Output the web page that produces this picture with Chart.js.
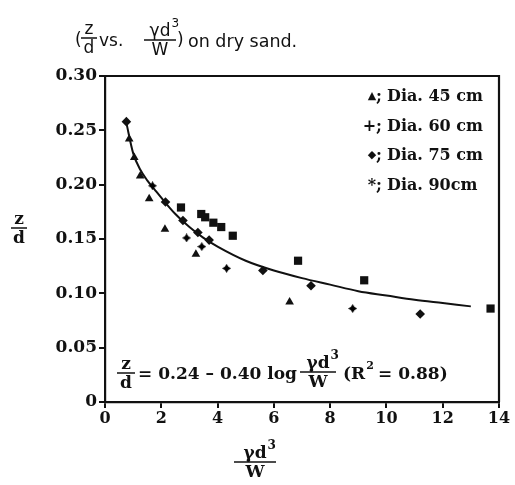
<!DOCTYPE html>
<html>
<head>
<meta charset="utf-8">
<script src="https://cdn.jsdelivr.net/npm/chart.js@4"></script>
<style>
  html, body { margin: 0; padding: 0; background: #fff; }
  #wrap { width: 515px; height: 485px; }
</style>
</head>
<body>
<div id="wrap"><canvas id="c" width="515" height="485"></canvas></div>
<script>
// γd³/W and z/d for each cylinder diameter
const dia45X = [0.86, 1.04, 1.25, 1.57, 2.13, 3.23, 6.56];
const dia45Y = [0.242, 0.225, 0.208, 0.187, 0.159, 0.136, 0.092];

const dia60X = [1.69, 2.90, 3.44, 4.32, 8.80];
const dia60Y = [0.199, 0.151, 0.143, 0.123, 0.086];

const dia75X = [0.76, 2.15, 2.77, 3.30, 3.70, 5.61, 7.32, 11.20];
const dia75Y = [0.258, 0.184, 0.167, 0.156, 0.149, 0.121, 0.107, 0.081];

const dia90X = [2.70, 3.42, 3.56, 3.85, 4.13, 4.54, 6.86, 9.21, 13.70];
const dia90Y = [0.179, 0.173, 0.170, 0.165, 0.161, 0.153, 0.130, 0.112, 0.086];

// fitted regression curve
const fitX = [0.75, 1.0, 1.25, 1.5, 1.75, 2.0, 2.5, 3.0, 3.5, 4.0, 5.0, 6.0, 7.0, 8.0, 9.0, 10.0, 11.0, 12.0, 13.0];
const fitY = [0.258, 0.229, 0.214, 0.204, 0.196, 0.188, 0.173, 0.161, 0.151, 0.143, 0.130, 0.121, 0.114, 0.108, 0.102, 0.098, 0.094, 0.091, 0.088];

const xTicks = [0, 2, 4, 6, 8, 10, 12, 14];
const yTicks = [0, 0.05, 0.10, 0.15, 0.20, 0.25, 0.30];

const legendSymbols = ['\u25B2', '+', '\u25C6', '*'];
const legendLabels = ['Dia. 45 cm', 'Dia. 60 cm', 'Dia. 75 cm', 'Dia. 90cm'];

const pts = (xs, ys) => xs.map((x, i) => ({ x: x, y: ys[i] }));

// small four-pointed star used for the 60 cm series
function starMarker(size) {
  const cv = document.createElement('canvas');
  cv.width = size; cv.height = size;
  const g = cv.getContext('2d');
  const c = size / 2, r = size / 2, k = r * 0.38;
  g.fillStyle = '#000';
  g.beginPath();
  g.moveTo(c, c - r);
  g.lineTo(c + k, c - k);
  g.lineTo(c + r, c);
  g.lineTo(c + k, c + k);
  g.lineTo(c, c + r);
  g.lineTo(c - k, c + k);
  g.lineTo(c - r, c);
  g.lineTo(c - k, c - k);
  g.closePath();
  g.fill();
  return cv;
}

const SERIF = '"DejaVu Serif", "Liberation Serif", serif';
const SANS = '"DejaVu Sans", "Liberation Sans", sans-serif';

// frame, titles, legend and regression equation
const decorations = {
  id: 'decorations',
  afterDraw(chart) {
    const ctx = chart.ctx;
    const a = chart.chartArea;
    ctx.save();
    ctx.strokeStyle = '#111';
    ctx.lineWidth = 2.2;
    ctx.beginPath();
    ctx.moveTo(a.left, a.top);
    ctx.lineTo(a.right, a.top);
    ctx.lineTo(a.right, a.bottom);
    ctx.stroke();

    ctx.fillStyle = '#111';

    function frac(num, den, cx, barY, font, barW, sup) {
      ctx.font = font;
      ctx.textAlign = 'center';
      ctx.textBaseline = 'alphabetic';
      ctx.fillText(num, cx, barY - 4);
      if (sup) {
        const w = ctx.measureText(num).width;
        ctx.save();
        ctx.font = sup.font;
        ctx.textAlign = 'left';
        ctx.fillText(sup.text, cx + w / 2 + 1, barY - 13);
        ctx.restore();
      }
      ctx.textBaseline = 'top';
      ctx.fillText(den, cx, barY + 2);
      ctx.lineWidth = 1.5;
      ctx.beginPath();
      ctx.moveTo(cx - barW / 2, barY);
      ctx.lineTo(cx + barW / 2, barY);
      ctx.stroke();
    }

    // title line
    ctx.font = '17px ' + SANS;
    ctx.textAlign = 'left';
    ctx.textBaseline = 'alphabetic';
    ctx.fillText('(', 75, 45);
    frac('z', 'd', 89, 38, '17px ' + SANS, 16);
    ctx.font = '17px ' + SANS;
    ctx.textAlign = 'left';
    ctx.textBaseline = 'alphabetic';
    ctx.fillText('vs.', 99, 46);
    frac('\u03B3d', 'W', 160, 40, '17px ' + SANS, 32, { text: '3', font: '12px ' + SANS });
    ctx.font = '17px ' + SANS;
    ctx.textAlign = 'left';
    ctx.textBaseline = 'alphabetic';
    ctx.fillText(')', 177, 45);
    ctx.font = '17.5px ' + SANS;
    ctx.fillText('on dry sand.', 188, 47);

    // y-axis title
    frac('z', 'd', 19, 228, 'bold 17px ' + SERIF, 16);

    // x-axis title
    frac('\u03B3d', 'W', 255, 462, 'bold 17px ' + SERIF, 42, { text: '3', font: 'bold 12px ' + SERIF });

    // legend: small symbol, semicolon, then the label column
    ctx.textBaseline = 'middle';
    legendLabels.forEach((t, i) => {
      const y = 97 + i * 29.5;
      ctx.font = 'bold 16px ' + SERIF;
      ctx.textAlign = 'right';
      ctx.fillText(';', 382, y);
      const semi = ctx.measureText(';').width;
      const small = legendSymbols[i] === '\u25B2' || legendSymbols[i] === '\u25C6';
      ctx.font = (small ? 'bold 11px ' : 'bold 16px ') + SERIF;
      ctx.fillText(legendSymbols[i], 382 - semi, small ? y - 1 : y);
      ctx.font = 'bold 16px ' + SERIF;
      ctx.textAlign = 'left';
      ctx.fillText(t, 387, y);
    });

    // regression equation
    frac('z', 'd', 126, 373, 'bold 17px ' + SERIF, 18);
    ctx.font = 'bold 17px ' + SERIF;
    ctx.textAlign = 'left';
    ctx.textBaseline = 'middle';
    ctx.fillText('= 0.24 \u2013 0.40 log', 138, 375);
    frac('\u03B3d', 'W', 318, 372, 'bold 17px ' + SERIF, 36, { text: '3', font: 'bold 12px ' + SERIF });
    ctx.font = 'bold 17px ' + SERIF;
    ctx.textAlign = 'left';
    ctx.textBaseline = 'middle';
    ctx.fillText('(R', 343, 375);
    let w = ctx.measureText('(R').width;
    ctx.font = 'bold 11px ' + SERIF;
    ctx.fillText('2', 343 + w + 1, 366);
    ctx.font = 'bold 17px ' + SERIF;
    ctx.fillText(' = 0.88)', 343 + w + 7, 375);
    ctx.restore();
  }
};

const markerCommon = { backgroundColor: '#111', borderColor: '#111', borderWidth: 0, showLine: false };

new Chart(document.getElementById('c'), {
  type: 'scatter',
  data: {
    datasets: [
      Object.assign({ label: 'Dia. 45 cm', data: pts(dia45X, dia45Y), pointStyle: 'triangle', pointRadius: 5 }, markerCommon),
      Object.assign({ label: 'Dia. 60 cm', data: pts(dia60X, dia60Y), pointStyle: starMarker(9), pointRadius: 5 }, markerCommon),
      Object.assign({ label: 'Dia. 75 cm', data: pts(dia75X, dia75Y), pointStyle: 'rectRot', pointRadius: 4.8 }, markerCommon),
      Object.assign({ label: 'Dia. 90cm', data: pts(dia90X, dia90Y), pointStyle: 'rect', pointRadius: 5.8 }, markerCommon),
      {
        label: 'fit',
        data: pts(fitX, fitY),
        showLine: true,
        borderColor: '#111',
        borderWidth: 2,
        pointRadius: 0,
        cubicInterpolationMode: 'monotone',
        fill: false
      }
    ]
  },
  options: {
    responsive: false,
    animation: false,
    devicePixelRatio: 1,
    layout: { padding: { top: 76, right: 16, left: 0, bottom: 0 } },
    plugins: { legend: { display: false }, tooltip: { enabled: false } },
    scales: {
      x: {
        type: 'linear',
        min: 0, max: 14,
        afterBuildTicks: s => { s.ticks = xTicks.map(v => ({ value: v })); },
        afterFit: s => { s.height = 83; },
        grid: { drawOnChartArea: false, drawTicks: true, tickLength: 6, color: '#111', lineWidth: 2 },
        border: { display: true, color: '#111', width: 2.2 },
        ticks: { color: '#111', padding: 1, maxRotation: 0, font: { family: SERIF, size: 16, weight: 'bold' } }
      },
      y: {
        type: 'linear',
        min: 0, max: 0.3,
        afterBuildTicks: s => { s.ticks = yTicks.map(v => ({ value: v })); },
        afterFit: s => { s.width = 105; },
        grid: { drawOnChartArea: false, drawTicks: true, tickLength: 6, color: '#111', lineWidth: 2 },
        border: { display: true, color: '#111', width: 2.2 },
        ticks: {
          color: '#111', padding: 2,
          font: { family: SERIF, size: 17, weight: 'bold' },
          callback: v => (v === 0 ? '0' : v.toFixed(2))
        }
      }
    }
  },
  plugins: [decorations]
});
</script>
</body>
</html>
